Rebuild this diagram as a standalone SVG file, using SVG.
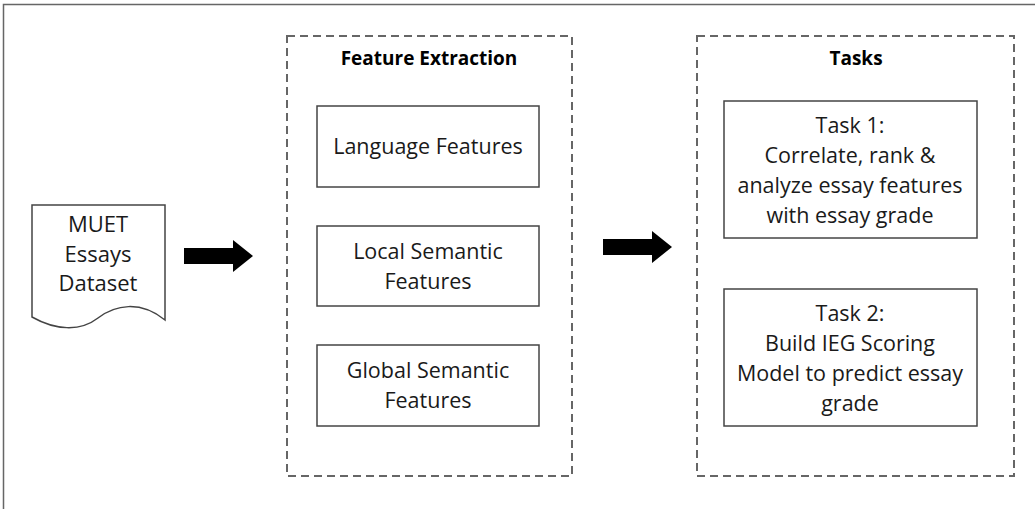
<svg xmlns="http://www.w3.org/2000/svg" width="1035" height="509" viewBox="0 0 1035 509">
<style>
.t{font-family:"Open Sans",Lato,sans-serif;font-size:21.5px;fill:#1a1a1a;text-anchor:middle}
.d{font-size:22px}
.h{font-family:"Open Sans",Lato,sans-serif;font-size:19px;font-weight:bold;fill:#000;text-anchor:middle}
.box{fill:#fff;stroke:#444;stroke-width:1.5}
.grp{fill:none;stroke:#666;stroke-width:2;stroke-dasharray:8,5}
.arr{fill:#000}
</style>
<rect x="0" y="0" width="1035" height="509" fill="#fff"/>
<path d="M3.5,509 V4.5 H1035" fill="none" stroke="#666" stroke-width="1.5"/>
<g id="feature-extraction">
<rect class="grp" x="287" y="36" width="285" height="440"/>
<text class="h" x="429" y="65">Feature Extraction</text>
</g>
<g id="tasks">
<rect class="grp" x="697" y="36" width="317" height="440"/>
<text class="h" x="856" y="65">Tasks</text>
</g>
<g id="dataset">
<path class="box" d="M32,205 H165 V320 C140,300 115,305 98,318 C80,332 55,330 32,317 Z"/>
<text class="t d"><tspan x="98" y="232">MUET</tspan><tspan x="98" y="262">Essays</tspan><tspan x="98" y="291">Dataset</tspan></text>
</g>
<g id="language-features">
<rect class="box" x="317" y="106" width="222" height="81"/>
<text class="t" x="428" y="154">Language Features</text>
</g>
<g id="local-semantic">
<rect class="box" x="317" y="226" width="222" height="80"/>
<text class="t"><tspan x="428" y="259">Local Semantic</tspan><tspan x="428" y="289">Features</tspan></text>
</g>
<g id="global-semantic">
<rect class="box" x="317" y="345" width="222" height="81"/>
<text class="t"><tspan x="428" y="378">Global Semantic</tspan><tspan x="428" y="408">Features</tspan></text>
</g>
<g id="task1">
<rect class="box" x="724" y="101" width="253" height="137"/>
<text class="t"><tspan x="850" y="133">Task 1:</tspan><tspan x="850" y="163">Correlate, rank &amp;</tspan><tspan x="850" y="193">analyze essay features</tspan><tspan x="850" y="223">with essay grade</tspan></text>
</g>
<g id="task2">
<rect class="box" x="724" y="289" width="253" height="137"/>
<text class="t"><tspan x="850" y="321">Task 2:</tspan><tspan x="850" y="351">Build IEG Scoring</tspan><tspan x="850" y="381">Model to predict essay</tspan><tspan x="850" y="411">grade</tspan></text>
</g>
<g id="connectors">
<polygon class="arr" points="184,248 233,248 233,240 253,256 233,272 233,264 184,264"/>
<polygon class="arr" points="603,239 652,239 652,231 672,247 652,263 652,255 603,255"/>
</g>
</svg>
